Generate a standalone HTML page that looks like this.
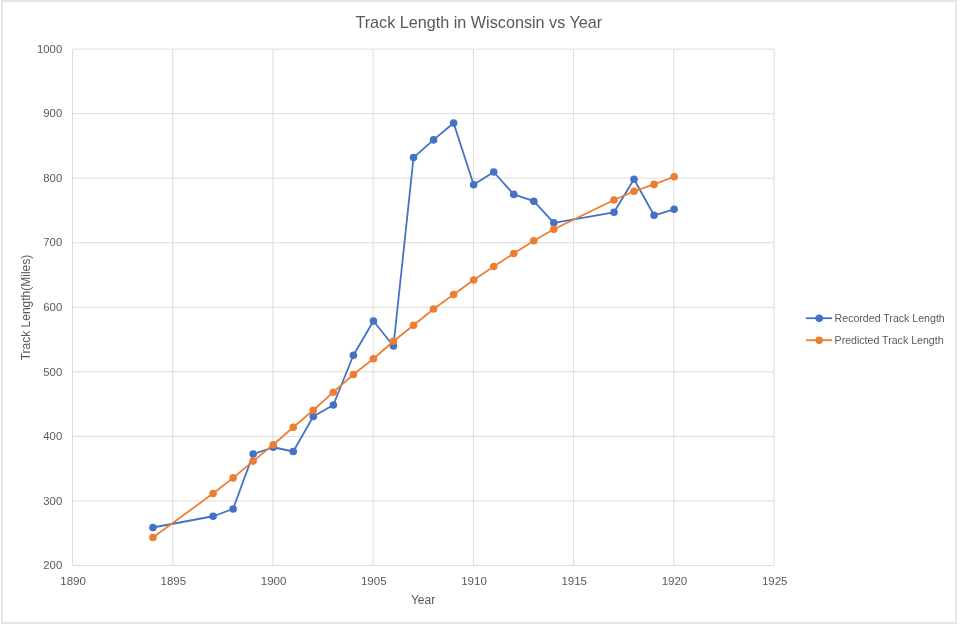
<!DOCTYPE html>
<html><head><meta charset="utf-8"><style>
html,body{margin:0;padding:0;background:#fff;}
body{width:960px;height:624px;overflow:hidden;position:relative;}
svg{position:absolute;left:0;top:0;font-family:"Liberation Sans", sans-serif;filter:blur(0.3px);}
.frame{position:absolute;left:1px;top:0;width:955.8px;height:624px;border:2px solid #e6e6e6;box-sizing:border-box;}
</style></head><body>
<div class="frame"></div>
<svg width="960" height="624" viewBox="0 0 960 624">
<line x1="72.50" y1="49.10" x2="774.08" y2="49.10" stroke="#dcdcdc" stroke-width="1"/>
<line x1="72.50" y1="113.65" x2="774.08" y2="113.65" stroke="#dcdcdc" stroke-width="1"/>
<line x1="72.50" y1="178.19" x2="774.08" y2="178.19" stroke="#dcdcdc" stroke-width="1"/>
<line x1="72.50" y1="242.74" x2="774.08" y2="242.74" stroke="#dcdcdc" stroke-width="1"/>
<line x1="72.50" y1="307.28" x2="774.08" y2="307.28" stroke="#dcdcdc" stroke-width="1"/>
<line x1="72.50" y1="371.83" x2="774.08" y2="371.83" stroke="#dcdcdc" stroke-width="1"/>
<line x1="72.50" y1="436.38" x2="774.08" y2="436.38" stroke="#dcdcdc" stroke-width="1"/>
<line x1="72.50" y1="500.92" x2="774.08" y2="500.92" stroke="#dcdcdc" stroke-width="1"/>
<line x1="72.50" y1="565.47" x2="774.08" y2="565.47" stroke="#dcdcdc" stroke-width="1"/>
<line x1="72.50" y1="49.10" x2="72.50" y2="565.47" stroke="#dcdcdc" stroke-width="1"/>
<line x1="172.73" y1="49.10" x2="172.73" y2="565.47" stroke="#dcdcdc" stroke-width="1"/>
<line x1="272.95" y1="49.10" x2="272.95" y2="565.47" stroke="#dcdcdc" stroke-width="1"/>
<line x1="373.18" y1="49.10" x2="373.18" y2="565.47" stroke="#dcdcdc" stroke-width="1"/>
<line x1="473.40" y1="49.10" x2="473.40" y2="565.47" stroke="#dcdcdc" stroke-width="1"/>
<line x1="573.62" y1="49.10" x2="573.62" y2="565.47" stroke="#dcdcdc" stroke-width="1"/>
<line x1="673.85" y1="49.10" x2="673.85" y2="565.47" stroke="#dcdcdc" stroke-width="1"/>
<line x1="774.08" y1="49.10" x2="774.08" y2="565.47" stroke="#dcdcdc" stroke-width="1"/>
<text x="62.2" y="52.80" text-anchor="end" font-size="11.3" fill="#595959">1000</text>
<text x="62.2" y="117.35" text-anchor="end" font-size="11.3" fill="#595959">900</text>
<text x="62.2" y="181.89" text-anchor="end" font-size="11.3" fill="#595959">800</text>
<text x="62.2" y="246.44" text-anchor="end" font-size="11.3" fill="#595959">700</text>
<text x="62.2" y="310.98" text-anchor="end" font-size="11.3" fill="#595959">600</text>
<text x="62.2" y="375.53" text-anchor="end" font-size="11.3" fill="#595959">500</text>
<text x="62.2" y="440.08" text-anchor="end" font-size="11.3" fill="#595959">400</text>
<text x="62.2" y="504.62" text-anchor="end" font-size="11.3" fill="#595959">300</text>
<text x="62.2" y="569.17" text-anchor="end" font-size="11.3" fill="#595959">200</text>
<text x="73.10" y="584.6" text-anchor="middle" font-size="11.5" fill="#595959">1890</text>
<text x="173.33" y="584.6" text-anchor="middle" font-size="11.5" fill="#595959">1895</text>
<text x="273.55" y="584.6" text-anchor="middle" font-size="11.5" fill="#595959">1900</text>
<text x="373.78" y="584.6" text-anchor="middle" font-size="11.5" fill="#595959">1905</text>
<text x="474.00" y="584.6" text-anchor="middle" font-size="11.5" fill="#595959">1910</text>
<text x="574.23" y="584.6" text-anchor="middle" font-size="11.5" fill="#595959">1915</text>
<text x="674.45" y="584.6" text-anchor="middle" font-size="11.5" fill="#595959">1920</text>
<text x="774.68" y="584.6" text-anchor="middle" font-size="11.5" fill="#595959">1925</text>
<text x="478.8" y="28.2" text-anchor="middle" font-size="16.2" fill="#595959">Track Length in Wisconsin vs Year</text>
<text x="423" y="604" text-anchor="middle" font-size="12" fill="#595959">Year</text>
<text transform="translate(30 307.5) rotate(-90)" x="0" y="0" text-anchor="middle" font-size="12" fill="#595959">Track Length(Miles)</text>
<polyline points="152.93,527.50 213.06,516.25 233.11,509.00 253.16,454.10 273.20,447.25 293.25,451.50 313.29,416.50 333.34,405.00 353.38,355.25 373.43,321.00 393.47,346.00 413.52,157.60 433.56,139.90 453.61,123.00 473.65,184.70 493.70,172.00 513.74,194.40 533.79,201.20 553.83,222.80 613.97,212.30 634.01,179.20 654.06,215.30 674.10,209.30" fill="none" stroke="#4472c4" stroke-width="1.8" stroke-linejoin="round" stroke-linecap="round"/><circle cx="152.93" cy="527.50" r="3.8" fill="#4472c4"/><circle cx="213.06" cy="516.25" r="3.8" fill="#4472c4"/><circle cx="233.11" cy="509.00" r="3.8" fill="#4472c4"/><circle cx="253.16" cy="454.10" r="3.8" fill="#4472c4"/><circle cx="273.20" cy="447.25" r="3.8" fill="#4472c4"/><circle cx="293.25" cy="451.50" r="3.8" fill="#4472c4"/><circle cx="313.29" cy="416.50" r="3.8" fill="#4472c4"/><circle cx="333.34" cy="405.00" r="3.8" fill="#4472c4"/><circle cx="353.38" cy="355.25" r="3.8" fill="#4472c4"/><circle cx="373.43" cy="321.00" r="3.8" fill="#4472c4"/><circle cx="393.47" cy="346.00" r="3.8" fill="#4472c4"/><circle cx="413.52" cy="157.60" r="3.8" fill="#4472c4"/><circle cx="433.56" cy="139.90" r="3.8" fill="#4472c4"/><circle cx="453.61" cy="123.00" r="3.8" fill="#4472c4"/><circle cx="473.65" cy="184.70" r="3.8" fill="#4472c4"/><circle cx="493.70" cy="172.00" r="3.8" fill="#4472c4"/><circle cx="513.74" cy="194.40" r="3.8" fill="#4472c4"/><circle cx="533.79" cy="201.20" r="3.8" fill="#4472c4"/><circle cx="553.83" cy="222.80" r="3.8" fill="#4472c4"/><circle cx="613.97" cy="212.30" r="3.8" fill="#4472c4"/><circle cx="634.01" cy="179.20" r="3.8" fill="#4472c4"/><circle cx="654.06" cy="215.30" r="3.8" fill="#4472c4"/><circle cx="674.10" cy="209.30" r="3.8" fill="#4472c4"/>
<polyline points="152.93,537.50 213.06,493.50 233.11,477.90 253.16,461.10 273.20,444.75 293.25,427.25 313.29,410.25 333.34,392.20 353.38,374.50 373.43,358.75 393.47,341.25 413.52,325.25 433.56,309.00 453.61,294.50 473.65,280.00 493.70,266.50 513.74,253.50 533.79,240.80 553.83,229.20 613.97,200.00 634.01,191.25 654.06,184.40 674.10,176.80" fill="none" stroke="#ed7d31" stroke-width="1.7" stroke-linejoin="round" stroke-linecap="round"/><circle cx="152.93" cy="537.50" r="3.8" fill="#ed7d31"/><circle cx="213.06" cy="493.50" r="3.8" fill="#ed7d31"/><circle cx="233.11" cy="477.90" r="3.8" fill="#ed7d31"/><circle cx="253.16" cy="461.10" r="3.8" fill="#ed7d31"/><circle cx="273.20" cy="444.75" r="3.8" fill="#ed7d31"/><circle cx="293.25" cy="427.25" r="3.8" fill="#ed7d31"/><circle cx="313.29" cy="410.25" r="3.8" fill="#ed7d31"/><circle cx="333.34" cy="392.20" r="3.8" fill="#ed7d31"/><circle cx="353.38" cy="374.50" r="3.8" fill="#ed7d31"/><circle cx="373.43" cy="358.75" r="3.8" fill="#ed7d31"/><circle cx="393.47" cy="341.25" r="3.8" fill="#ed7d31"/><circle cx="413.52" cy="325.25" r="3.8" fill="#ed7d31"/><circle cx="433.56" cy="309.00" r="3.8" fill="#ed7d31"/><circle cx="453.61" cy="294.50" r="3.8" fill="#ed7d31"/><circle cx="473.65" cy="280.00" r="3.8" fill="#ed7d31"/><circle cx="493.70" cy="266.50" r="3.8" fill="#ed7d31"/><circle cx="513.74" cy="253.50" r="3.8" fill="#ed7d31"/><circle cx="533.79" cy="240.80" r="3.8" fill="#ed7d31"/><circle cx="553.83" cy="229.20" r="3.8" fill="#ed7d31"/><circle cx="613.97" cy="200.00" r="3.8" fill="#ed7d31"/><circle cx="634.01" cy="191.25" r="3.8" fill="#ed7d31"/><circle cx="654.06" cy="184.40" r="3.8" fill="#ed7d31"/><circle cx="674.10" cy="176.80" r="3.8" fill="#ed7d31"/>
<line x1="805.8" y1="318.2" x2="832.1" y2="318.2" stroke="#4472c4" stroke-width="1.8"/>
<circle cx="819.2" cy="318.2" r="3.8" fill="#4472c4"/>
<text x="834.6" y="321.7" font-size="10.6" fill="#595959">Recorded Track Length</text>
<line x1="805.8" y1="340.2" x2="832.1" y2="340.2" stroke="#ed7d31" stroke-width="1.8"/>
<circle cx="819.2" cy="340.2" r="3.8" fill="#ed7d31"/>
<text x="834.6" y="343.7" font-size="10.6" fill="#595959">Predicted Track Length</text>
</svg>
</body></html>
